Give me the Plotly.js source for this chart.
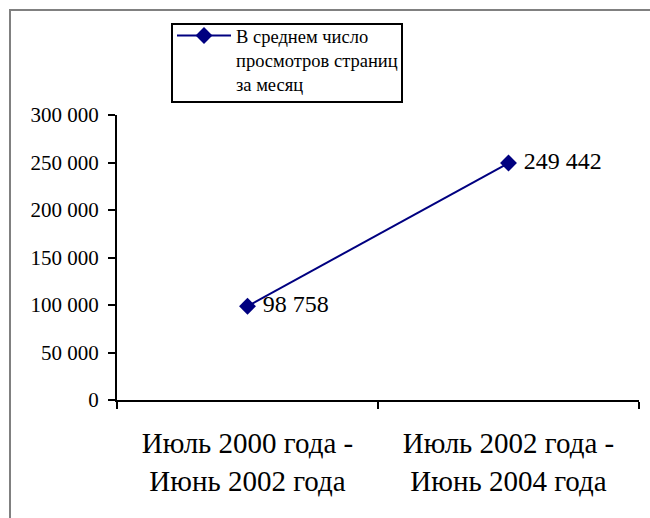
<!DOCTYPE html>
<html>
<head>
<meta charset="utf-8">
<script src="https://cdn.plot.ly/plotly-3.0.1.min.js"></script>
<style>
  html, body { margin: 0; padding: 0; background: #fff; }
  #chart { width: 650px; height: 518px; }
</style>
</head>
<body>
<div id="chart"></div>
<script>
const categories = [
  "Июль 2000 года -<br>Июнь 2002 года",
  "Июль 2002 года -<br>Июнь 2004 года"
];
const seriesName = "В среднем число<br>просмотров страниц<br>за месяц";
const pageViews = [98758, 249442];
const yTickValues = [0, 50000, 100000, 150000, 200000, 250000, 300000];

const serif = "Liberation Serif";

const trace = {
  x: categories,
  y: pageViews,
  name: seriesName,
  type: "scatter",
  mode: "lines+markers+text",
  line: { color: "#000080", width: 2 },
  marker: { symbol: "diamond", size: 13, color: "#000080" },
  texttemplate: " %{y:,}",
  textposition: "middle right",
  textfont: { family: serif, size: 24, color: "#000" },
  cliponaxis: false,
  showlegend: true
};

const layout = {
  width: 650,
  height: 518,
  margin: { l: 117, r: 11, t: 115, b: 118 },
  paper_bgcolor: "#fff",
  plot_bgcolor: "#fff",
  separators: ", ",
  font: { family: serif, color: "#000" },
  showlegend: true,
  legend: {
    x: (172 - 117) / 522,
    y: (400 - 17) / 285,
    xanchor: "left",
    yanchor: "top",
    bgcolor: "rgba(0,0,0,0)",
    borderwidth: 0,
    valign: "top",
    font: { family: serif, size: 18.5, color: "#000" },
    itemwidth: 54
  },
  xaxis: {
    type: "category",
    showline: true,
    linecolor: "#000",
    linewidth: 2,
    ticks: "outside",
    tickson: "boundaries",
    ticklen: 7,
    tickwidth: 2,
    tickcolor: "#000",
    showgrid: false,
    zeroline: false,
    ticklabelstandoff: 16,
    tickfont: { family: serif, size: 29, color: "#000" },
    range: [-0.5, 1.5],
    fixedrange: true
  },
  yaxis: {
    range: [0, 300000],
    tickvals: yTickValues,
    tickformat: ",d",
    showline: true,
    linecolor: "#000",
    linewidth: 2,
    ticks: "outside",
    ticklen: 7,
    tickwidth: 2,
    tickcolor: "#000",
    showgrid: false,
    zeroline: false,
    ticklabelstandoff: 5,
    tickfont: { family: serif, size: 21, color: "#000" },
    fixedrange: true
  },
  shapes: [{
    type: "rect",
    xref: "paper", yref: "paper",
    x0: (10 - 117) / 522, x1: (700 - 117) / 522,
    y0: (400 - 600) / 285, y1: (400 - 10) / 285,
    line: { color: "#808080", width: 2 },
    fillcolor: "rgba(0,0,0,0)",
    layer: "below"
  }, {
    type: "rect",
    xref: "paper", yref: "paper",
    x0: (172 - 117) / 522, x1: (402 - 117) / 522,
    y0: (400 - 102) / 285, y1: (400 - 24) / 285,
    line: { color: "#000", width: 2 },
    fillcolor: "#fff",
    layer: "below"
  }]
};

Plotly.newPlot("chart", [trace], layout, { displayModeBar: false, staticPlot: true });
</script>
</body>
</html>
